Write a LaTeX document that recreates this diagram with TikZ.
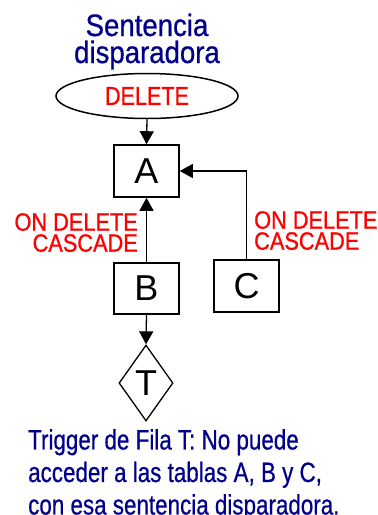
\documentclass[tikz,border=0pt]{standalone}
\usepackage{fontspec}
\setmainfont{Liberation Sans}
\newfontfamily\fbottom[FakeStretch=0.80,FakeBold=0.6]{Liberation Sans}
\newfontfamily\fdel[FakeStretch=0.83,FakeBold=0.6]{Liberation Sans}
\newfontfamily\flab[FakeStretch=0.87,FakeBold=0.9]{Liberation Sans}
\newfontfamily\ftitle[FakeStretch=0.89,FakeBold=0.7]{Liberation Sans}
\usetikzlibrary{shapes.geometric,arrows.meta}
\definecolor{navy}{RGB}{0,0,140}
\definecolor{redtxt}{RGB}{255,0,0}
\tikzset{
  tbox/.style={draw=black,line width=1.6pt,minimum width=65pt,minimum height=52pt,inner sep=0pt,font=\fontsize{36}{40}\selectfont},
  arr/.style={line width=1.3pt,-{Triangle[width=14pt,length=13pt]}},
  titletxt/.style={text=navy,inner sep=0pt,font=\ftitle\fontsize{31}{28}\selectfont},
  labtxt/.style={text=redtxt,inner sep=0pt,font=\flab\fontsize{25}{21}\selectfont},
}
\begin{document}
\begin{tikzpicture}[x=1pt,y=-1pt]
\useasboundingbox (0,0) rectangle (378,515);
\node[titletxt,anchor=base] (t1) at (147,36) {Sentencia};
\node[titletxt,anchor=base] (t2) at (147,63) {disparadora};
\node[draw=black,ellipse,line width=1.5pt,minimum width=182pt,minimum height=45pt,inner sep=0pt,text=redtxt,font=\fdel\fontsize{26}{28}\selectfont] (del) at (147,96) {DELETE};
\node[tbox] (A) at (146.5,171) {A};
\node[tbox,minimum height=51pt] (B) at (146.5,288.5) {B};
\node[tbox] (C) at (246.5,286) {C};
\node[draw=black,diamond,line width=1.3pt,minimum width=54pt,minimum height=76pt,inner sep=0pt,font=\fontsize{36}{40}\selectfont] (T) at (146,383) {T};
\draw[arr] (del.south) -- (A.north);
\draw[arr] (B.north) -- (A.south);
\draw[arr] (C.north) |- (A.east);
\draw[arr] (B.south) -- (T.north);
\node[labtxt,align=right,anchor=north east] (l1) at (138,213) {ON DELETE\\CASCADE};
\node[labtxt,align=left,anchor=north west] (l2) at (254,211) {ON DELETE\\CASCADE};
\node[text=navy,inner sep=0pt,align=left,anchor=north west,font=\fbottom\fontsize{28}{32.5}\selectfont] (bt) at (28,429) {Trigger de Fila T: No puede\\acceder a las tablas A, B y C,\\con esa sentencia disparadora.};
\end{tikzpicture}
\end{document}
